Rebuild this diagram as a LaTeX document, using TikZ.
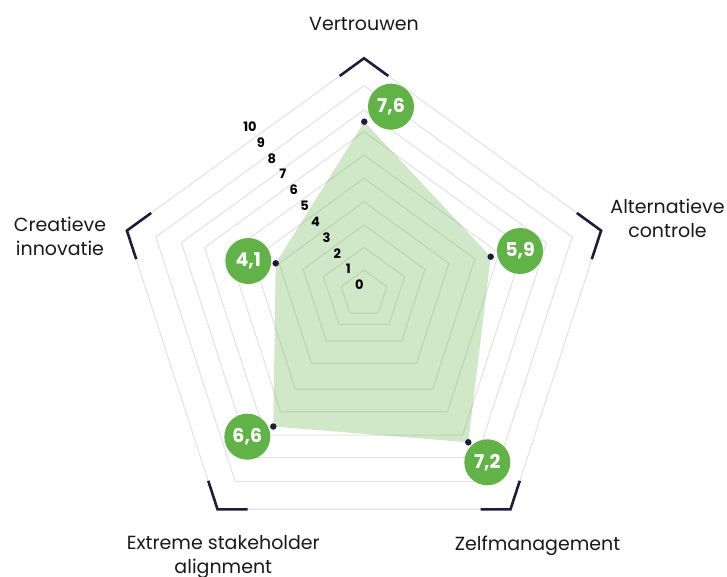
\documentclass[tikz,border=0pt]{standalone}
\usepackage{fontspec}
\setmainfont{Poppins}
\usepackage{tikz}
\usetikzlibrary{calc}
\definecolor{navy}{RGB}{30,28,58}
\definecolor{ringgrey}{RGB}{228,228,228}
\definecolor{scoregreen}{RGB}{98,179,71}

\begin{document}
\begin{tikzpicture}[x=1pt,y=-1pt,
  ringline/.style={draw=ringgrey,line width=1.1pt},
  corner/.style={draw=navy,line width=2.6pt,line join=miter},
  dot/.style={circle,fill=navy,inner sep=0pt,minimum size=6.5pt},
  score/.style={circle,fill=scoregreen,inner sep=0pt,minimum size=46pt,text=white,font=\fontsize{19}{20}\selectfont\bfseries},
  axislbl/.style={align=center,inner sep=0pt,anchor=north,text=black!90,font=\fontsize{19}{24}\selectfont},
  tick/.style={font=\fontsize{13}{15}\selectfont\bfseries}]
  \useasboundingbox (0,0) rectangle (727,577);
  % ---- geometry ----
  % pentagon centre x; every ring k has its own radius R and centre y c
  \def\cx{364}

  % ---- rings ----
  \foreach \k/\R/\c in {1/23.9/293.9,2/42.6/289.9,3/64.1/289.1,4/89.3/291.0,5/116.6/294.9,
                        6/141.9/296.9,7/167.7/299.4,8/192.0/302.0,9/218.9/304.6,10/249.3/307.6}{
    \draw[ringline] (\cx,{\c-\R}) -- ({\cx+0.951*\R},{\c-0.309*\R}) -- ({\cx+0.588*\R},{\c+0.809*\R})
      -- ({\cx-0.588*\R},{\c+0.809*\R}) -- ({\cx-0.951*\R},{\c-0.309*\R}) -- cycle;
  }

  % ---- outer corners ----
  \coordinate (oV) at (364,58.3);
  \coordinate (oA) at (601.1,230.6);
  \coordinate (oZ) at (510.5,509.3);
  \coordinate (oE) at (217.5,509.3);
  \coordinate (oC) at (126.9,230.6);
  \foreach \p/\a/\b in {oV/oC/oA,oA/oV/oZ,oZ/oA/oE,oE/oZ/oC,oC/oE/oV}{
    \draw[corner] ($(\p)!30pt!(\a)$) -- (\p) -- ($(\p)!30pt!(\b)$);
  }

  % ---- score area ----
  \coordinate (dV) at (364.3,121.7);
  \coordinate (dA) at (490.7,256.7);
  \coordinate (dZ) at (468.3,442.3);
  \coordinate (dE) at (273.3,426.5);
  \coordinate (dC) at (275.7,263.3);
  \fill[scoregreen,fill opacity=0.3] (dV) -- (dA) -- (dZ) -- (dE) -- (dC) -- cycle;

  % ---- scale 0..10 ----
  \foreach \v in {0,...,10}{
    \node[tick] (t\v) at ({359.3-10.93*\v},{285-15.83*\v}) {\v};
  }

  % ---- dots + score bubbles ----
  \foreach \n/\bx/\by/\val in {V/391/106.7/{7,6},A/520/251/{5,9},Z/487.3/462.3/{7,2},
                               E/247.3/436.7/{6,6},C/248.3/261/{4,1}}{
    \node[dot] (p\n) at (d\n) {};
    \node[score] (b\n) at (\bx,\by) {\val};
  }

  % ---- axis labels ----
  \node[axislbl] (aV) at (364,16.7) {Vertrouwen};
  \node[axislbl] (aA) at (667.5,199.3) {Alternatieve\\controle};
  \node[axislbl] (aZ) at (537.5,536) {Zelfmanagement};
  \node[axislbl] (aE) at (223.3,535) {Extreme stakeholder\\alignment};
  \node[axislbl] (aC) at (60,216.7) {Creatieve\\innovatie};
\end{tikzpicture}
\end{document}
